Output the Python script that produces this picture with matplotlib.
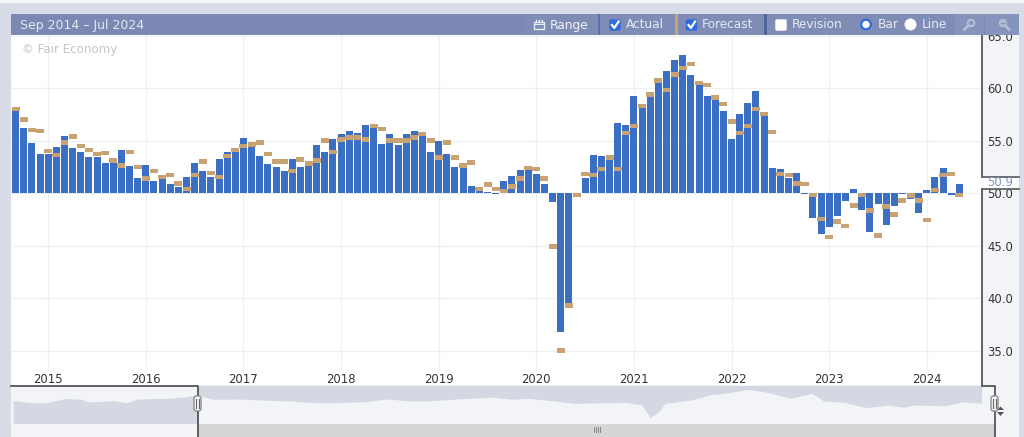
import matplotlib
matplotlib.use("Agg")
import matplotlib.pyplot as plt
from matplotlib.patches import Rectangle, FancyBboxPatch, Circle, Polygon
import numpy as np

W, H = 1024, 437

# Monthly readings, first entry is Sep 2014
actual = [57.9, 56.2, 54.8, 53.7, 53.7, 54.4, 55.4, 54.3, 53.9, 53.4, 53.4, 52.9, 52.9, 54.1, 52.6, 51.4,
          52.7, 51.1, 51.3, 50.9, 50.6, 51.5, 52.9, 52.1, 51.5, 53.2, 53.9, 53.9, 55.2, 54.4, 53.5, 52.8,
          52.5, 52.1, 53.2, 52.5, 53.0, 54.6, 53.9, 55.1, 55.6, 55.9, 55.7, 56.5, 56.3, 54.7, 55.6, 54.6,
          55.6, 55.9, 55.6, 53.9, 55.0, 53.7, 52.5, 52.4, 50.7, 50.2, 50.1, 49.9, 51.1, 51.6, 52.2, 52.3,
          51.8, 50.9, 49.1, 36.8, 39.4, 49.7, 51.4, 53.6, 53.5, 53.1, 56.7, 56.5, 59.2, 58.1, 59.1, 60.5,
          61.6, 62.7, 63.1, 61.2, 60.3, 59.2, 58.9, 57.8, 55.1, 57.5, 58.6, 59.7, 57.3, 52.4, 52.3, 51.4,
          51.9, 49.9, 47.6, 46.1, 46.8, 47.8, 49.2, 50.4, 48.4, 46.25, 48.95, 46.95, 48.8, 49.95, 49.4, 48.1,
          50.3, 51.55, 52.4, 49.85, 50.9]
forecast = [58.0, 57.0, 56.0, 55.9, 54.0, 53.6, 54.8, 55.4, 54.5, 54.1, 53.7, 53.8, 53.1, 52.6, 53.9, 52.5,
            51.4, 52.1, 51.5, 51.7, 50.9, 50.4, 51.7, 53.0, 51.9, 51.5, 53.5, 54.1, 54.5, 54.6, 54.8, 53.7,
            53.0, 53.0, 52.1, 53.2, 52.8, 53.1, 55.0, 53.9, 55.1, 55.3, 55.3, 55.1, 56.4, 56.1, 55.0, 55.0,
            55.0, 55.3, 55.6, 55.0, 53.4, 54.8, 53.4, 52.6, 52.9, 50.4, 50.8, 50.4, 50.2, 50.6, 51.4, 52.4,
            52.3, 51.4, 44.9, 35.0, 39.3, 49.8, 51.8, 51.7, 52.3, 53.4, 52.3, 55.7, 56.4, 58.3, 59.4, 60.7,
            59.8, 61.3, 61.9, 62.3, 60.5, 60.3, 59.1, 58.5, 56.8, 55.7, 56.4, 58.0, 57.5, 55.8, 51.8, 51.7,
            50.9, 50.85, 49.8, 47.55, 45.8, 47.3, 46.85, 48.8, 49.8, 48.35, 45.95, 48.7, 47.95, 49.3, 49.75,
            49.3, 47.45, 50.3, 51.7, 51.8, 49.8]
y_ticks = [35.0, 40.0, 45.0, 50.0, 55.0, 60.0, 65.0]
year_labels = ["2015", "2016", "2017", "2018", "2019", "2020", "2021", "2022", "2023", "2024"]
year_months = [4, 16, 28, 40, 52, 64, 76, 88, 100, 112]

# Overview strip: months relative to Sep 2014 and the smoothed level
overview_month = [-28, -25, -23, -20, -17.6, -16.6, -12.9, -10.8, -9.3, -6.8, -4.7, -1.7, 0, 2.3, 6.4, 11.9,
                  13.4, 18, 20.5, 25, 28.8, 32, 35, 40.7, 44.7, 47.6, 50, 52.6, 57.2, 64.7, 67.3, 68.5, 69.8,
                  70.8, 74.8, 77.9, 79.9, 83.4, 86.5, 89.7, 93, 94.8, 98, 101.1, 104.6, 106.9, 108.2, 113.2,
                  115.8, 118.7]
overview_level = [52.1, 50.3, 50.3, 54.3, 53.4, 50.9, 52.1, 50.3, 53.4, 54.3, 54.3, 55.8, 57.4, 53.4, 53.7, 52.1,
                  52.1, 50.3, 50.3, 51.2, 53.7, 51.9, 51.9, 54.3, 55.3, 53.4, 54.3, 52.8, 49.7, 50.6, 48.1, 36.4,
                  41.9, 49.7, 52.8, 58.0, 59.0, 62.7, 59.6, 54.3, 59.0, 51.9, 50.6, 45.7, 48.1, 46.0, 48.1, 47.5,
                  51.2, 49.7]
latest_label = "50.9"

BAR = "#3b6fc3"
TAN = "#c8a273"
GRID = "#eef0f4"
PAGE = "#d8dce6"
PANEL = "#f2f4f8"
NAVFILL = "#d4d8e2"
HEAD = "#7a88b3"
BTN = "#7f8db6"
AXLINE = "#5f6266"
FONT = "DejaVu Sans"


def px_axes(left, top, right, bottom, zorder):
    return fig.add_axes([left / W, 1 - bottom / H, (right - left) / W, (bottom - top) / H], zorder=zorder)


fig = plt.figure(figsize=(W / 100, H / 100), dpi=100, facecolor=PAGE)

# Page background and fixed panels
bg = px_axes(0, 0, W, H, 0)
bg.set_xlim(0, W)
bg.set_ylim(H, 0)
bg.axis("off")
bg.add_patch(Rectangle((0, 0), W, 3, fc="#f5f6fa", ec="none"))
bg.add_patch(Rectangle((11, 35), 971, 350, fc="white", ec="none"))
bg.add_patch(Rectangle((982, 35), 37, 402, fc=PANEL, ec="none"))
bg.add_patch(Rectangle((11, 385), 984, 39, fc=PANEL, ec="none"))

# Main chart
ax = px_axes(11, 35, 982, 371, 2)
ax.patch.set_alpha(0)
months = np.arange(len(actual))
ax.set_xlim((11 - 15.7) / 8.135, (982 - 15.7) / 8.135)
ax.set_ylim(50 - (371 - 193) / 10.5, 50 + (193 - 35) / 10.5)
ax.bar(months, np.array(actual) - 50, bottom=50, width=0.86, color=BAR, zorder=3)
ax.bar(months, 0.42, bottom=np.array(forecast) - 0.21, width=0.98, color=TAN, zorder=4)
ax.set_yticks(y_ticks)
ax.set_yticklabels([f"{v:.1f}" for v in y_ticks], fontsize=8.4, color="#333333", family=FONT)
ax.yaxis.tick_right()
ax.tick_params(axis="y", length=0, pad=3.6)
ax.set_xticks(year_months)
ax.set_xticklabels(year_labels, fontsize=8.4, color="#333333", family=FONT)
ax.tick_params(axis="x", length=0, pad=1.6)
ax.grid(True, color=GRID, linewidth=1)
ax.set_axisbelow(True)
for s in ax.spines.values():
    s.set_visible(False)

# Overview strip under the chart
nav = px_axes(11, 385.5, 995, 424, 2)
nav.set_xlim((11 - 198) / 6.6, (995 - 198) / 6.6)
nav.set_ylim(50 - (424 - 403) / 1.08, 50 + (403 - 385.5) / 1.08)
nav.axis("off")
ov_m = np.array(overview_month, dtype=float)
ov_l = np.array(overview_level, dtype=float)
top_level = nav.get_ylim()[1]
low_level = nav.get_ylim()[0]
nav.fill_between(ov_m[ov_m <= 0], low_level, ov_l[ov_m <= 0], color=NAVFILL, lw=0)
nav.fill_between(ov_m[ov_m >= 0], ov_l[ov_m >= 0], top_level, color=NAVFILL, lw=0)

# Header, frame lines and controls are drawn on top of the chart
ui = px_axes(0, 0, W, H, 5)
ui.set_xlim(0, W)
ui.set_ylim(H, 0)
ui.axis("off")
ui.patch.set_alpha(0)


def rect(x0, y0, x1, y1, color, z=1):
    ui.add_patch(Rectangle((x0, y0), x1 - x0, y1 - y0, fc=color, ec="none", zorder=z))


def label(x, y, s, color="#e6e9f2", size=8.7, ha="left", **kw):
    ui.text(x, y, s, color=color, fontsize=size, ha=ha, va="center", family=FONT, zorder=6, **kw)


def checkbox(x0, checked):
    if checked:
        ui.add_patch(FancyBboxPatch((x0 + 1, 20), 10, 10, boxstyle="round,pad=0,rounding_size=1.5",
                                    fc="#2e6bdc", ec="#2e6bdc", lw=1, zorder=5))
        ui.plot([x0 + 3, x0 + 5.3, x0 + 9.6], [25, 28, 21.5], color="white", lw=1.6, zorder=6)
    else:
        ui.add_patch(FancyBboxPatch((x0 + 1, 20), 10, 10, boxstyle="round,pad=0,rounding_size=1",
                                    fc="white", ec="white", lw=1, zorder=5))


rect(11, 13.5, 1019, 35.3, HEAD)
rect(524, 14, 598, 35, BTN, 2)
rect(600, 14, 675, 35, BTN, 2)
rect(678, 14, 764, 35, BTN, 2)
rect(767, 14, 852, 35, BTN, 2)
rect(853, 14, 953, 35, BTN, 2)
rect(954, 14, 984, 35, "#8694bb", 2)
rect(985, 14, 1019, 35, "#8694bb", 2)
rect(598, 14, 600, 35, "#5a70aa", 3)
rect(675, 14, 678, 35, TAN, 3)
rect(764, 14, 767, 35, "#4f65a0", 3)

label(20, 25, "Sep 2014 \u2013 Jul 2024", size=9.0)

# Calendar glyph on the range button
ui.add_patch(Rectangle((534, 22), 10, 7, fc="none", ec="#e6e9f2", lw=1, zorder=6))
rect(534, 24, 544, 25, "#e6e9f2", 6)
for cx in (536, 539, 542):
    ui.plot([cx, cx], [19.5, 22], color="#e6e9f2", lw=1, zorder=6)
label(550, 25, "Range", color="#f1f3f8")

checkbox(609, True)
label(625.5, 25, "Actual")
checkbox(685.5, True)
label(701.5, 25, "Forecast")
checkbox(775, False)
label(791.5, 25, "Revision")

ui.add_patch(Circle((866, 24.5), 4.8, fc="white", ec="#2e6bdc", lw=1.6, zorder=6))
label(878, 25, "Bar")
ui.add_patch(Circle((910.5, 24.5), 5.6, fc="white", ec="white", lw=0.5, zorder=6))
label(922, 25, "Line")

# Zoom glyphs
ZOOMC = "#b3bdd6"
ui.add_patch(Circle((971, 23), 3.2, fc="none", ec=ZOOMC, lw=1.6, zorder=6))
ui.plot([968.5, 964.5], [25.5, 29.5], color=ZOOMC, lw=2, zorder=6)
ui.add_patch(Circle((1003, 23), 3.4, fc=ZOOMC, ec=ZOOMC, lw=1.2, zorder=6))
ui.plot([1005.5, 1009], [25.5, 29.5], color=ZOOMC, lw=2, zorder=6)
ui.plot([1001, 1005], [23, 23], color="#8694bb", lw=1, zorder=7)

label(22, 50, "\u00a9 Fair Economy", color="#c6c6c6", size=8.6)

# Value axis frame with the flag for the latest reading
ui.plot([982, 982], [35.3, 385.5], color=AXLINE, lw=1.4, zorder=4, solid_capstyle="butt")
rect(983, 177, 1019, 188.5, "white", 4)
ui.plot([982, 1019], [176.7, 176.7], color=AXLINE, lw=1.3, zorder=5)
ui.plot([982, 1019], [188.7, 188.7], color=AXLINE, lw=1.3, zorder=5)
rect(981, 177.5, 983.5, 188, "white", 5)
label(987, 183, latest_label, color="#7d97bd", size=8.4)

# Overview frame, scrollbar and handles
rect(198, 423.5, 995, H, "#d6d6d6", 3)
rect(11, 424, 198, H, PANEL, 3)
ui.plot([11, 198, 198], [385.5, 385.5, H], color="#3a3a3a", lw=1.1, zorder=4)
ui.plot([982, 995, 995], [385.5, 385.5, H], color="#3a3a3a", lw=1.1, zorder=4)
for gx in (593.5, 595.5, 597.5, 599.5):
    ui.plot([gx, gx], [427, 432], color="#777777", lw=0.6, zorder=5)
for hx in (197.5, 994.5):
    ui.add_patch(FancyBboxPatch((hx - 3.5, 396), 7, 15, boxstyle="round,pad=0,rounding_size=2.5",
                                fc="white", ec="#8c8c8c", lw=1, zorder=6))
    ui.plot([hx - 1.2, hx - 1.2], [399, 408], color="#666666", lw=0.9, zorder=7)
    ui.plot([hx + 1.2, hx + 1.2], [399, 408], color="#666666", lw=0.9, zorder=7)
ui.add_patch(Polygon([[997, 410], [1004, 410], [1000.5, 406.5]], fc="#555555", ec="none", zorder=5))
ui.add_patch(Polygon([[997, 412], [1004, 412], [1000.5, 416]], fc="#555555", ec="none", zorder=5))

fig.savefig("out.png", dpi=100, facecolor=fig.get_facecolor())
